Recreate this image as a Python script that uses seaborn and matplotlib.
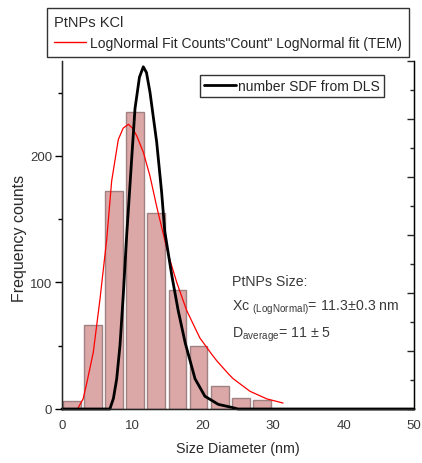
import numpy as np
import pandas as pd
import seaborn as sns
import matplotlib
matplotlib.use("Agg")
import matplotlib.pyplot as plt
from matplotlib.lines import Line2D
from matplotlib.ticker import MultipleLocator

# ---- data ----
bin_centers = [1.4, 4.4, 7.4, 10.4, 13.4, 16.4, 19.4, 22.4, 25.4, 28.4]
counts = [6.5, 66, 172, 235, 155, 94, 50, 18, 8.5, 7]

fit_x = [2.3, 3.0, 3.5, 4.45, 5.4, 6.35, 7.05, 8.0, 8.7, 9.43, 10.0, 10.6, 11.55, 12.5,
         13.45, 14.4, 15.1, 16.3, 17.0, 17.7, 18.9, 19.6, 21.3, 22.0, 23.6, 24.3,
         26.7, 29.1, 31.4]
fit_y = [1, 8, 20, 45, 87, 134, 180, 213, 222, 225, 222, 216, 203, 184,
         160, 138, 122, 100, 89, 78, 64, 56, 43, 38, 28, 24,
         14, 8, 4.7]

dls_x = [0, 6.8, 7.3, 7.77, 8.24, 8.7, 9.2, 9.43, 9.9, 10.37, 11.0, 11.55, 12.0, 12.5,
         13.45, 14.15, 14.6, 15.6, 16.5, 17.5, 18.9, 20.3, 22.2, 24.1, 25.0, 50]
dls_y = [0, 0, 0.009, 0.026, 0.055, 0.098, 0.151, 0.172, 0.216, 0.259, 0.286, 0.295,
         0.290, 0.273, 0.230, 0.187, 0.153, 0.115, 0.085, 0.057, 0.026, 0.011,
         0.004, 0.0014, 0, 0]

x_ticks = [0, 10, 20, 30, 40, 50]
y_ticks = [0, 100, 200]

sns.set_style("white")
plt.rcParams["font.family"] = ["Liberation Sans", "DejaVu Sans"]
plt.rcParams["mathtext.fontset"] = "custom"
plt.rcParams["mathtext.rm"] = "Liberation Sans"
plt.rcParams["mathtext.it"] = "Liberation Sans"

fig = plt.figure(figsize=(4.22, 4.64), dpi=100)
ax = fig.add_axes([62 / 422, 1 - 410 / 464, 352 / 422, 348 / 464])

sns.barplot(x=bin_centers, y=counts, native_scale=True, width=0.84,
            color="#dba7a7", saturation=1, edgecolor="#a08282", linewidth=1.0,
            errorbar=None, ax=ax, zorder=1)
sns.lineplot(x=fit_x, y=fit_y, color="red", linewidth=0.9, sort=False, ax=ax, zorder=3)

ax.set_xlim(0, 50)
ax.set_ylim(0, 275)
ax.set_xticks(x_ticks)
ax.set_yticks(y_ticks)
ax.xaxis.set_minor_locator(MultipleLocator(5))
ax.yaxis.set_minor_locator(MultipleLocator(50))
ax.tick_params(axis="both", which="major", direction="out", length=5, width=1,
               labelsize=9.5, labelcolor="#3a3a3a", pad=2, color="black")
ax.tick_params(axis="both", which="minor", direction="out", length=3, width=1, color="black")
ax.tick_params(axis="x", top=False)
ax.tick_params(axis="y", right=False)
ax.spines["top"].set_visible(False)
for s in ["left", "bottom", "right"]:
    ax.spines[s].set_color("black")
    ax.spines[s].set_linewidth(1.0)
ax.set_xlabel("Size Diameter (nm)", fontsize=10.3, color="#2a2a2a")
ax.xaxis.set_label_coords(0.5, -(449 - 410) / 348, transform=ax.transAxes)
ax.xaxis.label.set_va("center")
ax.set_ylabel("Frequency counts", fontsize=11.5, color="#2a2a2a")
ax.yaxis.set_label_coords(-(62 - 20) / 352, (410 - 238) / 348, transform=ax.transAxes)
ax.yaxis.label.set_va("center")

ax2 = ax.twinx()
ax2.set_ylim(0, 0.3)
ax2.yaxis.set_major_locator(MultipleLocator(0.05))
ax2.yaxis.set_minor_locator(MultipleLocator(0.025))
ax2.tick_params(axis="y", which="major", direction="in", length=5, width=1,
                labelright=False)
ax2.tick_params(axis="y", which="minor", direction="in", length=3, width=1)
ax2.spines["top"].set_visible(False)
ax2.spines["right"].set_color("black")
sns.lineplot(x=dls_x, y=dls_y, color="black", linewidth=2.0, sort=False, ax=ax2)
for ln in ax2.lines:
    ln.set_clip_on(False)
ax2.set_ylabel("")

h_dls = Line2D([], [], color="black", linewidth=2.0)
leg2 = ax2.legend([h_dls], ["number SDF from DLS"], loc="upper left",
                  bbox_to_anchor=(200 / 422, 1 - 76 / 464), bbox_transform=fig.transFigure,
                  borderaxespad=0, fontsize=10, frameon=True, fancybox=False,
                  edgecolor="black", handlelength=2.3, handletextpad=0.15,
                  borderpad=0.3)
leg2.get_frame().set_linewidth(1.0)

h_fit = Line2D([], [], color="red", linewidth=1.0)
leg1 = fig.legend([h_fit], ['LogNormal Fit Counts"Count" LogNormal fit (TEM)'],
                  title="PtNPs KCl", alignment="left", loc="upper left",
                  bbox_to_anchor=(47 / 422, 1 - 9 / 464), borderaxespad=0,
                  fontsize=10, title_fontsize=10.5, frameon=True, fancybox=False,
                  edgecolor="black", handlelength=2.3, handletextpad=0.3,
                  borderpad=0.5, labelspacing=0.5)
leg1.get_frame().set_linewidth(1.0)
leg1.get_title().set_color("#2a2a2a")

txt_kw = dict(fontsize=10.2, color="#3a3a3a", ha="left", va="center")
ax.text(24.1, 101, "PtNPs Size:", **txt_kw)
ax.text(24.1, 81, r"Xc $_{\mathregular{(LogNormal)}}$= 11.3±0.3 nm", **txt_kw)
ax.text(24.1, 59, r"D$_{\mathregular{average}}$= 11 ± 5", **txt_kw)

fig.savefig("out.png", dpi=100)
